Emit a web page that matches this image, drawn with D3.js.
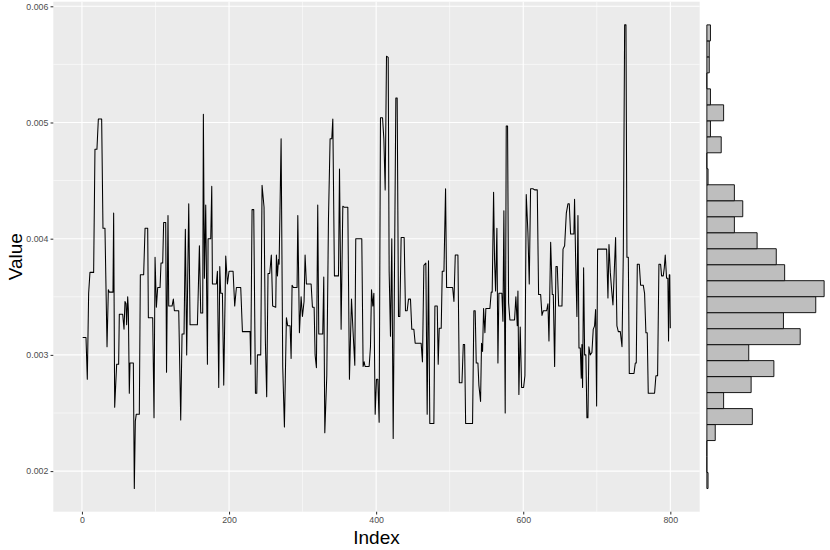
<!DOCTYPE html>
<html><head><meta charset="utf-8">
<script src="https://cdn.jsdelivr.net/npm/d3@7"></script>
<style>body{margin:0;background:#fff} svg{display:block}</style>
</head><body><svg id="c" width="830" height="550"></svg>
<script>
// series vertices: [index, value in units of 0.001]
const seriesPoints = [
[1,3.15],[5.5,3.15],[7.3,2.79],[9.1,3.53],[10.9,3.71],[15.9,3.71],[17.7,4.77],[20.4,4.77],[22.3,5.03],[26.8,5.03],[28.6,4.09],[31.3,4.09],[34.1,3.07],[35.9,3.56],[37.2,3.54],[42.2,3.54],[43.1,4.22],[44.5,2.55],[47.2,2.92],[49.9,2.92],[50.8,3.35],[55.4,3.35],[57.2,3.22],[58.5,3.46],[59.9,3.44],[60.8,3.26],[62.2,3.5],[63.1,3.39],[64.4,2.67],[65.3,2.93],[69.9,2.93],[71.2,1.85],[72.6,2.43],[73.9,2.49],[78,2.49],[79.4,3.69],[83.9,3.69],[85.8,4.09],[89.4,4.09],[90.3,3.32],[96.2,3.32],[98,2.46],[99.4,3.84],[101.2,3.41],[103,3.58],[106.2,3.58],[107.5,3.79],[109.8,3.79],[111.1,4.14],[113.9,4.14],[115,2.85],[117,4.2],[118,3.42],[122.5,3.42],[124.3,3.48],[125.7,3.38],
[131.6,3.38],[134.3,2.44],[136.1,3.18],[138.8,3.18],[140.6,4.08],[142.4,3.0],[145.2,4.3],[147,3.26],[157,3.26],[157.9,3.48],[159.7,3.94],[161.5,3.36],[164.2,3.36],[165.1,5.07],[166.5,3.66],[168.3,4.29],[170.6,2.92],[171.5,4.0],[175.1,4.0],[176.5,4.45],[177.4,3.61],[182.8,3.61],[184.2,3.72],[186,2.72],[187.4,3.76],[188.7,3.53],[191,3.53],[192.8,2.74],[195.5,3.85],[197.8,3.61],[200,3.72],[205.5,3.72],[207.7,3.42],[210,3.58],[215.9,3.58],[218.2,3.2],[228.6,3.2],[229.5,2.92],[231.3,4.25],[233.6,4.25],[235.9,2.67],[237.7,2.67],[238.6,3.0],[243.1,3.0],[244.9,4.46],[247.6,4.27],[249.4,3.12],[251.2,2.64],[253,3.7],[255.3,3.7],[257.5,3.86],[259.3,3.42],
[263.5,3.41],[264.4,3.86],[265.8,3.68],[267.2,3.82],[268.1,3.78],[270.8,4.86],[273,2.9],[275.3,2.38],[278,3.32],[279.8,3.25],[283,3.25],[284.4,2.97],[285.7,3.6],[287.5,3.58],[292.5,3.58],[293.5,4.2],[295.7,3.19],[298,3.5],[299.8,3.33],[302,3.46],[303.4,3.86],[305.2,3.61],[311.6,3.61],[313.4,3.41],[315.7,3.41],[317,3.0],[318.8,2.89],[320.6,4.29],[322,3.18],[327.4,3.18],[328.8,3.67],[330.2,2.33],[332.9,2.82],[335.2,4.17],[337.4,4.86],[339.7,4.86],[341.1,5.03],[343.3,3.68],[348.8,3.68],[350.2,4.6],[352.4,3.22],[354.7,4.28],[356.9,4.27],[361.5,4.27],[363.7,2.79],[366.5,3.48],[368.7,3.19],[371,2.91],[372.3,4.0],[380.5,4.0],[382.3,2.9],[383.7,2.94],[385,2.9],[390.5,2.9],[392.3,3.07],
[393.7,3.56],[395.5,3.42],[396.9,3.53],[398.7,2.49],[400.5,2.79],[402.3,2.79],[404.1,2.42],[405.9,5.04],[408.7,5.04],[410.5,4.86],[412.3,4.42],[414.1,5.57],[416.4,5.56],[417.7,3.72],[419.5,3.16],[421.3,4.0],[423.2,2.28],[426.8,5.21],[428.6,5.21],[430.4,3.33],[432.2,3.33],[434,4.01],[438.1,4.01],[439.9,3.38],[442.2,3.38],[444,3.48],[446.7,3.48],[448.5,3.22],[451.3,3.22],[453.1,3.1],[461.2,3.1],[463,2.94],[464.9,3.77],[467.6,3.79],[469.4,2.49],[471.2,3.81],[473,2.41],[478.5,2.41],[479.9,3.42],[483.1,3.42],[484.4,2.92],[485.8,3.23],[488.5,3.23],[489.9,3.72],[492.2,3.72],[494.4,4.43],[495.8,3.58],[504,3.58],[505.8,3.46],[507.6,3.86],[511.2,3.86],[513.1,2.76],[516.7,2.76],[518.5,3.09],[520.3,3.09],[521.7,2.41],[527.6,2.41],
[531.1,2.41],[532.9,3.38],[534.7,3.38],[536.1,2.93],[538.4,2.93],[539.7,2.74],[542,2.6],[543.3,3.1],[544.7,3.03],[546.1,3.4],[547.9,3.19],[549.2,3.4],[554.7,3.4],[556.5,3.54],[557.8,3.54],[559.7,4.4],[561,3.82],[562.4,3.55],[564.2,4.09],[565.6,2.93],[566.9,3.53],[571,3.53],[572.4,3.29],[573.7,4.24],[575.5,2.5],[576.9,4.97],[578.7,4.97],[580.1,3.45],[581.9,3.3],[588.2,3.3],[590,3.5],[591.9,3.25],[592.8,3.55],[594.1,2.66],[595.9,3.24],[597.8,2.72],[600.5,2.72],[602.3,2.82],[604.1,4.38],[606.4,4.05],[608.2,3.61],[610,4.43],[613.2,4.43],[615.5,4.42],[619.1,4.42],[620.9,3.52],[623.7,3.52],[625.5,3.34],[627.3,3.38],[631.8,3.38],[633.6,3.44],[635,3.12],[637.3,3.97],[639.5,3.52],[640.9,3.52],[642.7,2.9],[644.5,3.76],[646.3,3.76],[648.2,3.42],[652.7,3.42],[654.1,3.91],[656.3,3.94],[658.6,4.22],
[660.8,4.3],[662.6,4.3],[664.4,4.04],[668.9,4.04],[669.8,4.34],[671.2,3.84],[673,3.33],[674.4,4.2],[675.8,3.06],[677.6,3.06],[678.9,2.8],[679.8,3.09],[680.7,2.72],[682.1,3.75],[683.5,3.0],[685.2,3.0],[686.6,2.46],[688,2.46],[689.3,3.07],[691.1,3.0],[693.4,3.02],[695.2,3.22],[697,3.25],[698.4,3.39],[699.8,2.56],[701.1,3.91],[713.4,3.91],[715.2,3.49],[716.6,3.95],[718.4,3.71],[720.2,3.56],[722,3.43],[723.8,3.72],[725.6,4.01],[727.4,3.25],[729.3,3.2],[732,3.2],[734.3,3.07],[736.1,3.88],[737.9,5.84],[739.7,5.84],[741,3.84],[742.9,3.84],[744.2,2.84],[750.6,2.84],[752.4,2.93],[753.7,2.93],[755.1,3.78],[757.8,3.78],[759.6,3.6],[763.2,3.6],[765,3.53],[766.8,3.19],[768.6,3.19],[770,2.67],[778.6,2.67],[780.4,2.82],[782.7,2.82],[784.5,3.78],[786.8,3.78],[788.1,3.68],[790.4,3.68],[791.8,3.75],[793.1,3.86],[794.9,3.66],[796.7,3.66],[797.6,3.12],[798.6,3.69],[799.3,3.69],[800,3.23]
];
// marginal histogram counts, bottom bin to top bin (29 bins)
const histCounts = [1,0,0,7,38,14,37,56,35,78,64,91,98,65,58,42,23,30,23,1,0,12,3,14,3,0,2,2,3];
const xMajorTicks = [0,200,400,600,800];
const xMinorTicks = [100,300,500,700];
const yMajorTicks = [0.002,0.003,0.004,0.005,0.006];
const yMinorTicks = [0.0025,0.0035,0.0045,0.0055];
const xTitle = "Index", yTitle = "Value";
const indexRange = [1,800];

const FONT = "'Liberation Sans', Arial, Helvetica, sans-serif";
const P = {l:53.3, r:699.7, t:1.7, b:511.7};
const HP = {l:701, r:830};

const data = seriesPoints.map(([i,v]) => ({i, v: v/1000}));
const xPad = (indexRange[1]-indexRange[0])*0.05;
const x = d3.scaleLinear().domain([indexRange[0]-xPad, indexRange[1]+xPad]).range([P.l, P.r]);
const yExt = d3.extent(data, d => d.v);
const yPad = (yExt[1]-yExt[0])*0.05;
const y = d3.scaleLinear().domain([yExt[0]-yPad, yExt[1]+yPad]).range([P.b, P.t]);

const svg = d3.select("#c");
svg.append("rect").attr("width",830).attr("height",550).attr("fill","#fff");
svg.append("rect").attr("x",P.l).attr("y",P.t).attr("width",P.r-P.l).attr("height",P.b-P.t).attr("fill","#ebebeb");

const g = svg.append("g");
// minor grid
g.selectAll(".xm").data(xMinorTicks).join("line").attr("x1",d=>x(d)).attr("x2",d=>x(d)).attr("y1",P.t).attr("y2",P.b).attr("stroke","#fff").attr("stroke-width",0.55);
g.selectAll(".ym").data(yMinorTicks).join("line").attr("y1",d=>y(d)).attr("y2",d=>y(d)).attr("x1",P.l).attr("x2",P.r).attr("stroke","#fff").attr("stroke-width",0.55);
// major grid
g.selectAll(".xM").data(xMajorTicks).join("line").attr("x1",d=>x(d)).attr("x2",d=>x(d)).attr("y1",P.t).attr("y2",P.b).attr("stroke","#fff").attr("stroke-width",1.1);
g.selectAll(".yM").data(yMajorTicks).join("line").attr("y1",d=>y(d)).attr("y2",d=>y(d)).attr("x1",P.l).attr("x2",P.r).attr("stroke","#fff").attr("stroke-width",1.1);

// series line
const line = d3.line().x(d=>x(d.i)).y(d=>y(d.v));
svg.append("path").datum(data).attr("d",line).attr("fill","none").attr("stroke","#000").attr("stroke-width",1.05).attr("stroke-linejoin","round");

// axes
const ax = svg.append("g").attr("transform",`translate(0,${P.b})`)
  .call(d3.axisBottom(x).tickValues(xMajorTicks).tickSize(2.75).tickPadding(2.6).tickFormat(d3.format("d")));
const ay = svg.append("g").attr("transform",`translate(${P.l},0)`)
  .call(d3.axisLeft(y).tickValues(yMajorTicks).tickSize(2.75).tickPadding(2.2).tickFormat(d3.format(".3f")));
[ax, ay].forEach(a => {
  a.select(".domain").remove();
  a.selectAll(".tick line").attr("stroke","#333").attr("stroke-width",1.05);
  a.selectAll(".tick text").attr("fill","#4d4d4d").attr("font-size","8.8px").attr("font-family",FONT);
});

// titles
svg.append("text").attr("x",(P.l+P.r)/2).attr("y",544).attr("text-anchor","middle")
  .attr("font-family",FONT).attr("font-size","19px").attr("fill","#000").text(xTitle);
svg.append("text").attr("transform",`translate(21.5,${(P.t+P.b)/2}) rotate(-90)`).attr("text-anchor","middle")
  .attr("font-family",FONT).attr("font-size","19px").attr("fill","#000").text(yTitle);

// marginal histogram
const nb = histCounts.length;
const bw = (yExt[1]-yExt[0])/nb;
const bins = histCounts.map((c,k) => ({c, lo: yExt[0]+k*bw, hi: yExt[0]+(k+1)*bw}));
const maxC = d3.max(histCounts);
const hx = d3.scaleLinear().domain([-maxC*0.05, maxC*1.05]).range([HP.l, HP.r]);
svg.append("g").selectAll("path").data(bins).join("path")
  .attr("d", d => `M${hx(0)},${y(d.hi)}H${hx(d.c)}V${y(d.lo)}H${hx(0)}Z`)
  .attr("fill","#bebebe").attr("stroke","#000").attr("stroke-width",0.9);
</script></body></html>
